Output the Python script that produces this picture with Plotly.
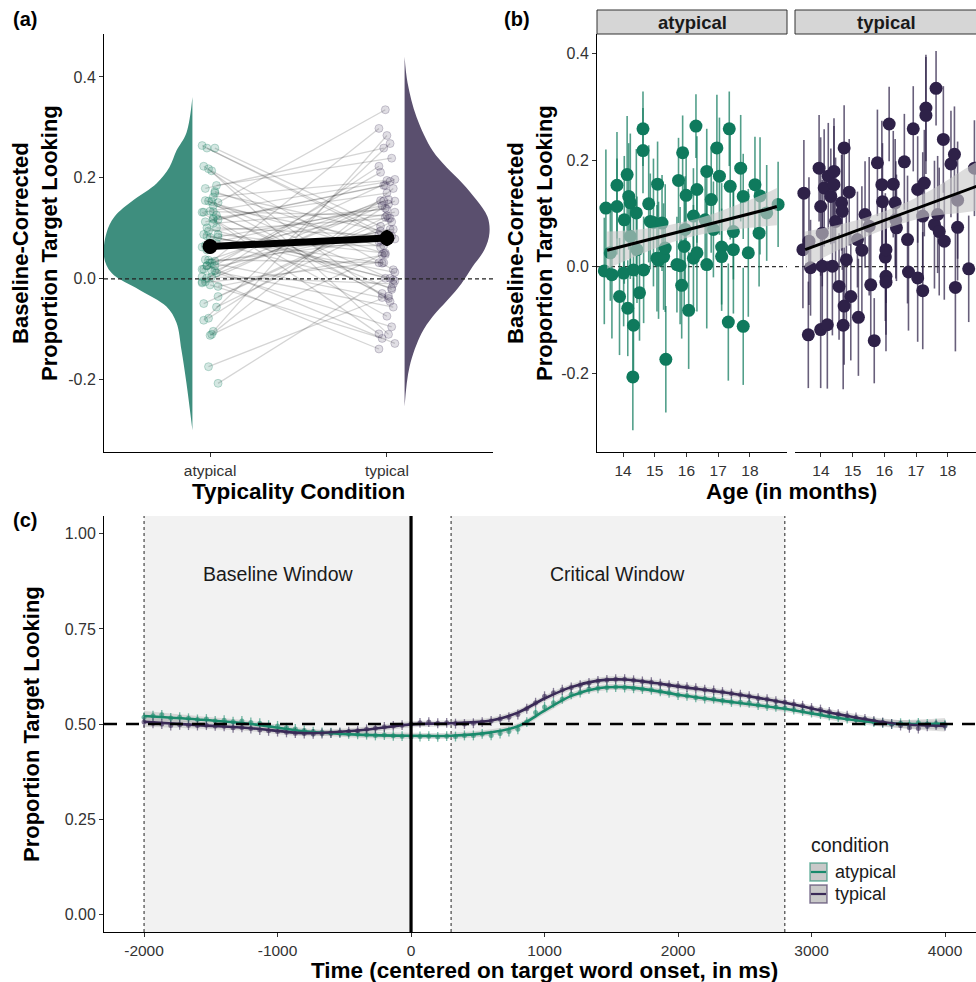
import plotly.graph_objects as go

W, H = 976, 982
FONT = "Liberation Sans, Arial, sans-serif"

# ---------------- data ----------------
# panel (b) atypical: age (months), baseline-corrected PTL, CI half-width
ATYP_AGE = [13.41, 13.46, 13.60, 13.65, 13.81, 13.81, 13.89, 14.02, 14.04, 14.13,
            14.15, 14.18, 14.23, 14.23, 14.31, 14.33, 14.33, 14.42, 14.44, 14.52,
            14.63, 14.63, 14.65, 14.81, 14.86, 14.96, 15.07, 15.09, 15.12, 15.23,
            15.28, 15.33, 15.35, 15.70, 15.75, 15.80, 15.85, 15.88, 15.93, 15.96,
            15.99, 16.07, 16.22, 16.22, 16.30, 16.33, 16.33, 16.59, 16.64, 16.64,
            16.78, 16.85, 16.96, 17.04, 17.11, 17.11, 17.32, 17.35, 17.38, 17.48,
            17.48, 17.71, 17.79, 17.79, 17.95, 18.16, 18.29, 18.32, 18.53, 18.89]
ATYP_VAL = [-0.008, 0.110, 0.026, -0.015, 0.153, 0.113, -0.056, -0.012, 0.088, 0.173,
            -0.078, 0.132, 0.120, 0.057, -0.207, -0.110, -0.006, 0.101, 0.032, -0.049,
            0.259, 0.218, -0.006, 0.118, 0.085, 0.083, 0.016, 0.155, 0.012, 0.082,
            0.019, 0.035, -0.174, 0.004, 0.162, 0.002, -0.035, 0.214, 0.038, 0.070,
            0.134, -0.082, 0.016, 0.095, 0.264, 0.145, 0.026, 0.088, 0.004, 0.179,
            0.126, 0.070, 0.223, 0.170, 0.037, 0.019, -0.104, 0.259, 0.151, 0.032,
            0.066, 0.185, -0.112, 0.132, 0.026, 0.154, 0.063, 0.133, 0.101, 0.117]
ATYP_ERR = [0.10, 0.11, 0.09, 0.12, 0.10, 0.09, 0.11, 0.10, 0.12, 0.11,
            0.09, 0.10, 0.13, 0.08, 0.10, 0.09, 0.11, 0.12, 0.10, 0.09,
            0.07, 0.08, 0.10, 0.11, 0.09, 0.12, 0.10, 0.08, 0.11, 0.09,
            0.10, 0.12, 0.10, 0.09, 0.08, 0.11, 0.10, 0.07, 0.12, 0.10,
            0.09, 0.11, 0.10, 0.09, 0.06, 0.10, 0.11, 0.09, 0.12, 0.08,
            0.10, 0.09, 0.10, 0.11, 0.12, 0.09, 0.11, 0.07, 0.10, 0.12,
            0.09, 0.10, 0.11, 0.08, 0.12, 0.09, 0.10, 0.11, 0.09, 0.08]

# panel (b) typical
TYP_AGE = [13.43, 13.46, 13.60, 13.62, 13.67, 13.94, 13.99, 13.99, 14.04, 14.04,
           14.10, 14.20, 14.23, 14.31, 14.36, 14.41, 14.41, 14.46, 14.57, 14.65,
           14.67, 14.70, 14.73, 14.73, 14.80, 14.89, 14.94, 15.15, 15.18, 15.29,
           15.39, 15.52, 15.57, 15.68, 15.78, 15.92, 15.94, 16.03, 16.05, 16.05,
           16.05, 16.15, 16.28, 16.34, 16.36, 16.38, 16.63, 16.73, 16.76, 16.91,
           17.05, 17.05, 17.21, 17.21, 17.26, 17.31, 17.31, 17.58, 17.63, 17.68,
           17.73, 17.86, 17.89, 18.10, 18.21, 18.24, 18.31, 18.31, 18.66, 18.84]
TYP_VAL = [0.032, 0.138, -0.128, 0.048, -0.002, 0.185, 0.113, -0.118, 0.001, 0.063,
           0.148, -0.109, 0.170, 0.132, 0.001, 0.179, 0.154, 0.085, -0.037, 0.120,
           0.104, -0.110, 0.223, -0.074, 0.013, 0.140, -0.056, 0.051, -0.095, 0.031,
           0.098, 0.076, -0.034, -0.139, 0.195, 0.154, 0.122, 0.018, 0.032, -0.018,
           -0.029, 0.268, 0.155, 0.120, 0.088, 0.073, 0.197, 0.051, -0.010, 0.259,
           -0.021, 0.145, -0.045, 0.095, 0.157, 0.298, 0.284, 0.079, 0.335, 0.098,
           0.066, 0.239, 0.048, 0.193, 0.211, -0.039, 0.074, 0.125, -0.004, 0.185]
TYP_ERR = [0.11, 0.10, 0.10, 0.12, 0.09, 0.10, 0.13, 0.11, 0.12, 0.10,
           0.11, 0.12, 0.10, 0.09, 0.13, 0.10, 0.11, 0.12, 0.10, 0.09,
           0.11, 0.12, 0.08, 0.11, 0.13, 0.10, 0.12, 0.09, 0.11, 0.12,
           0.10, 0.13, 0.11, 0.08, 0.10, 0.12, 0.11, 0.12, 0.10, 0.11,
           0.13, 0.07, 0.10, 0.12, 0.11, 0.10, 0.09, 0.12, 0.11, 0.08,
           0.12, 0.10, 0.11, 0.12, 0.10, 0.10, 0.11, 0.12, 0.07, 0.11,
           0.12, 0.10, 0.11, 0.10, 0.09, 0.12, 0.10, 0.11, 0.10, 0.09]

# linear fits with confidence band (panel b)
FIT_AGE = [13.5, 14.5, 15.5, 16.5, 17.5, 18.5, 18.85]
ATYP_FIT = [0.031, 0.046, 0.062, 0.077, 0.092, 0.107, 0.113]
ATYP_FIT_CI = [0.035, 0.024, 0.017, 0.016, 0.022, 0.031, 0.035]
FIT_AGE_T = [13.5, 14.5, 15.5, 16.5, 17.5, 18.5, 19.0]
TYP_FIT = [0.032, 0.054, 0.076, 0.098, 0.120, 0.142, 0.153]
TYP_FIT_CI = [0.034, 0.024, 0.018, 0.018, 0.025, 0.040, 0.047]

# panel (a): condition means with CI, half-violin density profiles (half-width in x units)
COND = ["atypical", "typical"]
COND_MEAN = [0.064, 0.081]
COND_CI = [0.014, 0.016]
VIO_A_Y = [0.36, 0.289, 0.254, 0.221, 0.189, 0.156, 0.123, 0.091, 0.044, 0.012,
           -0.022, -0.055, -0.087, -0.141, -0.206, -0.30]
VIO_A_W = [0.0, 0.034, 0.090, 0.130, 0.203, 0.333, 0.441, 0.486, 0.500, 0.458,
           0.299, 0.147, 0.090, 0.062, 0.034, 0.0]
VIO_T_Y = [0.44, 0.388, 0.32, 0.254, 0.221, 0.189, 0.156, 0.123, 0.091, 0.058,
           0.024, -0.009, -0.042, -0.075, -0.108, -0.174, -0.253]
VIO_T_W = [0.0, 0.017, 0.068, 0.158, 0.237, 0.328, 0.407, 0.469, 0.480, 0.452,
           0.384, 0.322, 0.243, 0.158, 0.096, 0.028, 0.0]

# panel (c): time course (66.7 ms bins)
TIME_MS = [-2000, -1933, -1867, -1800, -1733, -1667, -1600, -1533, -1467, -1400,
           -1333, -1267, -1200, -1133, -1067, -1000, -933, -867, -800, -733,
           -667, -600, -533, -467, -400, -333, -267, -200, -133, -67,
           0, 67, 133, 200, 267, 333, 400, 467, 533, 600,
           667, 733, 800, 867, 933, 1000, 1067, 1133, 1200, 1267,
           1333, 1400, 1467, 1533, 1600, 1667, 1733, 1800, 1867, 1933,
           2000, 2067, 2133, 2200, 2267, 2333, 2400, 2467, 2533, 2600,
           2667, 2733, 2800, 2867, 2933, 3000, 3067, 3133, 3200, 3267,
           3333, 3400, 3467, 3533, 3600, 3667, 3733, 3800, 3867, 3933, 4000]
PTL_ATYP = [0.518, 0.522, 0.524, 0.516, 0.518, 0.515, 0.512, 0.513, 0.508, 0.510,
            0.506, 0.508, 0.504, 0.502, 0.497, 0.495, 0.490, 0.487, 0.483, 0.480,
            0.478, 0.477, 0.476, 0.474, 0.473, 0.472, 0.470, 0.471, 0.469, 0.468,
            0.466, 0.467, 0.468, 0.466, 0.468, 0.467, 0.470, 0.470, 0.474, 0.470,
            0.475, 0.480, 0.486, 0.505, 0.530, 0.545, 0.556, 0.566, 0.578, 0.583,
            0.592, 0.594, 0.596, 0.597, 0.596, 0.594, 0.592, 0.590, 0.586, 0.582,
            0.576, 0.574, 0.570, 0.567, 0.566, 0.562, 0.558, 0.557, 0.556, 0.550,
            0.547, 0.545, 0.542, 0.538, 0.534, 0.530, 0.526, 0.522, 0.518, 0.514,
            0.511, 0.508, 0.505, 0.503, 0.500, 0.502, 0.499, 0.503, 0.500, 0.501, 0.498]
PTL_TYP = [0.505, 0.502, 0.500, 0.496, 0.498, 0.497, 0.496, 0.497, 0.495, 0.494,
           0.490, 0.491, 0.488, 0.484, 0.482, 0.480, 0.478, 0.476, 0.475, 0.474,
           0.475, 0.476, 0.478, 0.480, 0.482, 0.486, 0.489, 0.492, 0.495, 0.497,
           0.500, 0.503, 0.505, 0.502, 0.503, 0.501, 0.500, 0.502, 0.505, 0.508,
           0.513, 0.518, 0.525, 0.540, 0.556, 0.573, 0.582, 0.590, 0.596, 0.602,
           0.608, 0.613, 0.616, 0.618, 0.618, 0.615, 0.612, 0.610, 0.606, 0.602,
           0.600, 0.597, 0.594, 0.590, 0.588, 0.584, 0.580, 0.577, 0.573, 0.568,
           0.565, 0.560, 0.557, 0.552, 0.548, 0.542, 0.538, 0.532, 0.526, 0.522,
           0.517, 0.513, 0.508, 0.504, 0.500, 0.496, 0.490, 0.488, 0.494, 0.497, 0.495]
PTL_SE = 0.013
SMOOTH_T = [-2000, -1600, -1200, -800, -400, 0, 300, 600, 800, 1000,
            1200, 1400, 1600, 1800, 2000, 2400, 2800, 3200, 3600, 4000]
SMOOTH_ATYP = [0.521, 0.512, 0.500, 0.481, 0.472, 0.469, 0.469, 0.478, 0.494, 0.535,
               0.574, 0.594, 0.597, 0.589, 0.577, 0.558, 0.540, 0.516, 0.501, 0.501]
SMOOTH_TYP = [0.506, 0.497, 0.489, 0.476, 0.483, 0.499, 0.502, 0.509, 0.530, 0.567,
              0.597, 0.614, 0.617, 0.609, 0.599, 0.580, 0.556, 0.526, 0.502, 0.495]
SMOOTH_CI = [0.013, 0.009, 0.008, 0.008, 0.008, 0.008, 0.008, 0.008, 0.008, 0.008,
             0.008, 0.008, 0.008, 0.008, 0.008, 0.008, 0.008, 0.009, 0.010, 0.015]
TIME_TICKS = [-2000, -1000, 0, 1000, 2000, 3000, 4000]

# ---------------- styling ----------------
GREEN = "#0F7A5D"
PURPLE = "#2E2148"
VIO_GREEN = "#3E8E7E"
VIO_PURPLE = "#5A4F6E"
LINE_GREEN = "#1A8A6C"
LINE_PURPLE = "#3A2A57"


def rgba(hexc, a):
    h = hexc.lstrip("#")
    return "rgba(%d,%d,%d,%.3f)" % (int(h[0:2], 16), int(h[2:4], 16), int(h[4:6], 16), a)


def px(x):
    return x / W


def py(y):
    return 1 - y / H


fig = go.Figure()

# ---------- panel (a) ----------
fig.add_trace(go.Scatter(x=[0.9] * len(VIO_A_Y), y=VIO_A_Y, mode="lines", line=dict(width=0),
                         hoverinfo="skip", showlegend=False, xaxis="x", yaxis="y"))
fig.add_trace(go.Scatter(x=[0.9 - w for w in VIO_A_W], y=VIO_A_Y, mode="lines",
                         line=dict(width=0, shape="spline", smoothing=1.0), fill="tonextx",
                         fillcolor=VIO_GREEN, hoverinfo="skip", showlegend=False, xaxis="x", yaxis="y"))
fig.add_trace(go.Scatter(x=[2.1] * len(VIO_T_Y), y=VIO_T_Y, mode="lines", line=dict(width=0),
                         hoverinfo="skip", showlegend=False, xaxis="x", yaxis="y"))
fig.add_trace(go.Scatter(x=[2.1 + w for w in VIO_T_W], y=VIO_T_Y, mode="lines",
                         line=dict(width=0, shape="spline", smoothing=1.0), fill="tonextx",
                         fillcolor=VIO_PURPLE, hoverinfo="skip", showlegend=False, xaxis="x", yaxis="y"))

n_pair = min(len(ATYP_VAL), len(TYP_VAL))
jit = [((i * 7) % 11 - 5) * 0.009 for i in range(n_pair)]
jit2 = [((i * 5) % 11 - 5) * 0.009 for i in range(n_pair)]
lx, ly = [], []
for i in range(n_pair):
    lx += [1 + jit[i], 2 + jit2[i], None]
    ly += [ATYP_VAL[i], TYP_VAL[i], None]
fig.add_trace(go.Scatter(x=lx, y=ly, mode="lines", line=dict(color="rgba(0,0,0,0.17)", width=1.3),
                         hoverinfo="skip", showlegend=False, xaxis="x", yaxis="y"))
fig.add_trace(go.Scatter(x=[1 + j for j in jit], y=ATYP_VAL[:n_pair], mode="markers",
                         marker=dict(size=8, color=rgba(GREEN, 0.18), line=dict(color=rgba(GREEN, 0.25), width=1)),
                         hoverinfo="skip", showlegend=False, xaxis="x", yaxis="y"))
fig.add_trace(go.Scatter(x=[2 + j for j in jit2], y=TYP_VAL[:n_pair], mode="markers",
                         marker=dict(size=8, color=rgba(PURPLE, 0.15), line=dict(color=rgba(PURPLE, 0.22), width=1)),
                         hoverinfo="skip", showlegend=False, xaxis="x", yaxis="y"))
fig.add_trace(go.Scatter(x=[1, 2], y=COND_MEAN, mode="lines+markers",
                         line=dict(color="black", width=7), marker=dict(size=15, color="black"),
                         error_y=dict(type="data", array=COND_CI, color="black", thickness=3, width=0),
                         hoverinfo="skip", showlegend=False, xaxis="x", yaxis="y"))


# ---------- panel (b) ----------
def facet(ages, vals, errs, fit_x, fit_y, fit_ci, col, xa, ya):
    fig.add_trace(go.Scatter(x=ages, y=vals, mode="markers",
                             marker=dict(size=13, color=col),
                             error_y=dict(type="data", array=errs, color=rgba(col, 0.72), thickness=1.6, width=0),
                             hoverinfo="skip", showlegend=False, xaxis=xa, yaxis=ya))
    fig.add_trace(go.Scatter(x=fit_x, y=[a + b for a, b in zip(fit_y, fit_ci)], mode="lines",
                             line=dict(width=0, shape="spline"), hoverinfo="skip", showlegend=False,
                             xaxis=xa, yaxis=ya))
    fig.add_trace(go.Scatter(x=fit_x, y=[a - b for a, b in zip(fit_y, fit_ci)], mode="lines",
                             line=dict(width=0, shape="spline"), fill="tonexty",
                             fillcolor="rgba(200,200,200,0.62)", hoverinfo="skip", showlegend=False,
                             xaxis=xa, yaxis=ya))
    fig.add_trace(go.Scatter(x=fit_x, y=fit_y, mode="lines", line=dict(color="black", width=3),
                             hoverinfo="skip", showlegend=False, xaxis=xa, yaxis=ya))


facet(ATYP_AGE, ATYP_VAL, ATYP_ERR, FIT_AGE, ATYP_FIT, ATYP_FIT_CI, GREEN, "x2", "y2")
facet(TYP_AGE, TYP_VAL, TYP_ERR, FIT_AGE_T, TYP_FIT, TYP_FIT_CI, PURPLE, "x3", "y3")

# ---------- panel (c) ----------
for sm, col in [(SMOOTH_ATYP, LINE_GREEN), (SMOOTH_TYP, LINE_PURPLE)]:
    fig.add_trace(go.Scatter(x=SMOOTH_T, y=[a + b for a, b in zip(sm, SMOOTH_CI)], mode="lines",
                             line=dict(width=0, shape="spline"), hoverinfo="skip", showlegend=False,
                             xaxis="x4", yaxis="y4"))
    fig.add_trace(go.Scatter(x=SMOOTH_T, y=[a - b for a, b in zip(sm, SMOOTH_CI)], mode="lines",
                             line=dict(width=0, shape="spline"), fill="tonexty",
                             fillcolor="rgba(160,160,160,0.35)", hoverinfo="skip", showlegend=False,
                             xaxis="x4", yaxis="y4"))
for vals, col in [(PTL_ATYP, LINE_GREEN), (PTL_TYP, LINE_PURPLE)]:
    fig.add_trace(go.Scatter(x=TIME_MS, y=vals, mode="markers",
                             marker=dict(size=5, color=rgba(col, 0.6)),
                             error_y=dict(type="constant", value=PTL_SE, color=rgba(col, 0.6), thickness=1.3, width=0),
                             hoverinfo="skip", showlegend=False, xaxis="x4", yaxis="y4"))
for sm, col in [(SMOOTH_ATYP, LINE_GREEN), (SMOOTH_TYP, LINE_PURPLE)]:
    fig.add_trace(go.Scatter(x=SMOOTH_T, y=sm, mode="lines", line=dict(color=col, width=2.6, shape="spline"),
                             hoverinfo="skip", showlegend=False, xaxis="x4", yaxis="y4"))

# ---------- axes ----------
tickfont = dict(family=FONT, size=16, color="#333333")
xtickfont = dict(family=FONT, size=15.5, color="#333333")
common = dict(showline=True, linecolor="black", linewidth=1, ticks="outside", ticklen=4,
              tickcolor="#333333", tickwidth=1, showgrid=False, zeroline=False)

dom_ab = [py(452), py(34)]
fig.update_layout(
    xaxis=dict(domain=[px(104), px(493)], range=[0.4, 2.6], tickvals=[1, 2], ticktext=COND,
               anchor="y", tickfont=xtickfont, **common),
    yaxis=dict(domain=dom_ab, range=[-0.343, 0.485], tickvals=[-0.2, 0, 0.2, 0.4],
               ticktext=["-0.2", "0.0", "0.2", "0.4"], anchor="x", tickfont=tickfont, **common),
    xaxis2=dict(domain=[px(597), px(787)], range=[13.18, 19.17], tickvals=[14, 15, 16, 17, 18],
                anchor="y2", tickfont=xtickfont, **common),
    yaxis2=dict(domain=dom_ab, range=[-0.348, 0.437], tickvals=[-0.2, 0, 0.2, 0.4],
                ticktext=["-0.2", "0.0", "0.2", "0.4"], anchor="x2", tickfont=tickfont, **common),
    xaxis3=dict(domain=[px(795), 1.0], range=[13.18, 18.89], tickvals=[14, 15, 16, 17, 18],
                anchor="y3", tickfont=xtickfont, **common),
    yaxis3=dict(domain=dom_ab, range=[-0.348, 0.437], anchor="x3", showline=False, showticklabels=False,
                ticks="", showgrid=False, zeroline=False),
    xaxis4=dict(domain=[px(104), 1.0], range=[-2300, 4232], tickvals=TIME_TICKS,
                ticktext=[str(t) for t in TIME_TICKS], anchor="y4", tickfont=xtickfont, **common),
    yaxis4=dict(domain=[py(932), py(516)], range=[-0.047, 1.047], tickvals=[0, 0.25, 0.5, 0.75, 1.0],
                ticktext=["0.00", "0.25", "0.50", "0.75", "1.00"], anchor="x4", tickfont=tickfont, **common),
)

shapes = []
shapes.append(dict(type="line", xref="x", yref="y", x0=0.4, x1=2.6, y0=0, y1=0, layer="above",
                   line=dict(color="#222222", width=1.2, dash="4px,3px")))
for xa, ya, x0, x1 in [("x2", "y2", 13.18, 19.17), ("x3", "y3", 13.18, 18.89)]:
    shapes.append(dict(type="line", xref=xa, yref=ya, x0=x0, x1=x1, y0=0, y1=0, layer="below",
                       line=dict(color="#333333", width=1.2, dash="4px,3px")))
for x0, x1 in [(597, 787), (795, 990)]:
    shapes.append(dict(type="rect", xref="paper", yref="paper", x0=px(x0), x1=px(x1), y0=py(34), y1=py(10),
                       fillcolor="#D6D6D6", line=dict(color="#333333", width=1)))
for x0, x1 in [(-2000, 0), (300, 2800)]:
    shapes.append(dict(type="rect", xref="x4", yref="y4 domain", x0=x0, x1=x1, y0=0, y1=1,
                       fillcolor="#F2F2F2", line=dict(width=0), layer="below"))
for xv in [-2000, 300, 2800]:
    shapes.append(dict(type="line", xref="x4", yref="y4 domain", x0=xv, x1=xv, y0=0, y1=1,
                       line=dict(color="#222222", width=1, dash="dot"), layer="below"))
shapes.append(dict(type="line", xref="x4", yref="y4", x0=-2300, x1=4232, y0=0.5, y1=0.5, layer="above",
                   line=dict(color="black", width=2.6, dash="13px,9px")))
shapes.append(dict(type="line", xref="x4", yref="y4 domain", x0=0, x1=0, y0=0, y1=1, layer="above",
                   line=dict(color="black", width=3.2)))
LEG_Y = [872, 894]
for yc, col in zip(LEG_Y, [LINE_GREEN, LINE_PURPLE]):
    shapes.append(dict(type="rect", xref="paper", yref="paper", x0=px(810), x1=px(827), y0=py(yc + 9), y1=py(yc - 9),
                       fillcolor="#C9C9C9", line=dict(color=rgba(col, 0.6), width=1.5)))
    shapes.append(dict(type="line", xref="paper", yref="paper", x0=px(811), x1=px(826),
                       y0=py(yc), y1=py(yc), line=dict(color=col, width=2.2)))
fig.update_layout(shapes=shapes)

ann = []


def text(x, y, s, size, bold=False, angle=0, xanchor="center", color="black", xref="paper", yref="paper"):
    ann.append(dict(x=x, y=y, xref=xref, yref=yref, text=("<b>%s</b>" % s) if bold else s, showarrow=False,
                    textangle=angle, xanchor=xanchor, yanchor="middle",
                    font=dict(family=FONT, size=size, color=color)))


text(px(11), py(19), "(a)", 20, True, xanchor="left")
text(px(502), py(19), "(b)", 20, True, xanchor="left")
text(px(11), py(520), "(c)", 20, True, xanchor="left")
text(px(35), py(243), "Baseline-Corrected<br>Proportion Target Looking", 22, True, angle=-90)
text(px(530), py(243), "Baseline-Corrected<br>Proportion Target Looking", 22, True, angle=-90)
text(px(31), py(724), "Proportion Target Looking", 22, True, angle=-90)
text(px(298), py(491), "Typicality Condition", 22.5, True)
text(px(791), py(491), "Age (in months)", 22.5, True)
text(px(544), py(970), "Time (centered on target word onset, in ms)", 22.5, True)
text(px(692), py(22), "atypical", 18.5, True, color="#1A1A1A")
text(px(886), py(22), "typical", 18.5, True, color="#1A1A1A")
text(-1000, 0.895, "Baseline Window", 19.5, xref="x4", yref="y4", color="#1A1A1A")
text(1550, 0.895, "Critical Window", 19.5, xref="x4", yref="y4", color="#1A1A1A")
text(px(809), py(845), "condition", 19.5, xanchor="left", color="#1A1A1A")
text(px(833), py(LEG_Y[0]), "atypical", 18, xanchor="left", color="#1A1A1A")
text(px(833), py(LEG_Y[1]), "typical", 18, xanchor="left", color="#1A1A1A")

fig.update_layout(annotations=ann, width=W, height=H, margin=dict(l=0, r=0, t=0, b=0),
                  paper_bgcolor="white", plot_bgcolor="rgba(0,0,0,0)", showlegend=False,
                  font=dict(family=FONT))
fig.write_html("out.html", config={"displayModeBar": False, "staticPlot": True},
               post_script="document.body.style.margin='0';document.body.style.padding='0';"
                           "document.body.style.overflow='hidden';")
